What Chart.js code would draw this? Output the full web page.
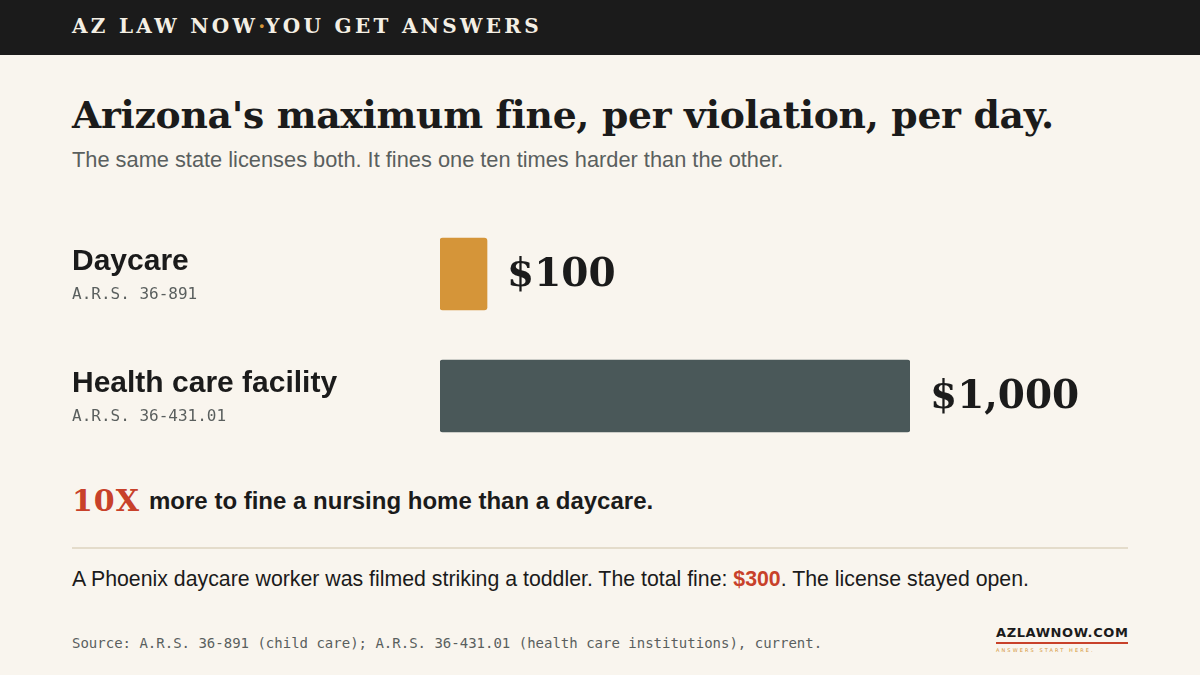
<!DOCTYPE html>
<html>
<head>
<meta charset="utf-8">
<script src="https://cdn.jsdelivr.net/npm/chart.js@4.4.0/dist/chart.umd.min.js"></script>
<style>
  html, body { margin: 0; padding: 0; }
  body { width: 1200px; height: 675px; background: #f9f5ee; position: relative; overflow: hidden; font-family: "Liberation Sans", Arial, sans-serif; color: #1b1b1b; }
  .top { position: absolute; left: 0; top: 0; width: 1200px; height: 55px; background: #1b1b1b; }
  .top span { position: absolute; left: 72px; top: 14px; font: bold 20px "DejaVu Serif", serif; letter-spacing: 3.3px; color: #f4efe4; }
  .top i { color: #d59539; font-style: normal; letter-spacing: 0; }
  h1 { position: absolute; left: 72px; top: 93px; margin: 0; font: bold 37.7px "DejaVu Serif", serif; letter-spacing: -0.3px; color: #1b1b1b; white-space: nowrap; }
  .sub { position: absolute; left: 72px; top: 147px; font-size: 21.8px; color: #5a5f5e; white-space: nowrap; }
  #wrap { position: absolute; left: 60px; top: 213px; width: 1080px; height: 244px; }
  .ratio { position: absolute; left: 72px; top: 483px; white-space: nowrap; }
  .ratio b.big { font: bold 30px "DejaVu Serif", serif; color: #c8412a; letter-spacing: 1px; }
  .ratio span { font-weight: bold; font-size: 24px; margin-left: 9px; vertical-align: 2px; }
  .rule { position: absolute; left: 72px; top: 547px; width: 1056px; height: 2px; background: #e4dccb; }
  .story { position: absolute; left: 72px; top: 567px; font-size: 21.3px; white-space: nowrap; }
  .story b { color: #c8412a; }
  .src { position: absolute; left: 72px; top: 635px; font: 14px "DejaVu Sans Mono", monospace; color: #5a5f5e; white-space: nowrap; }
  .logo { position: absolute; left: 996px; top: 625px; width: 132px; }
  .logo .name { font: bold 13px "DejaVu Sans", sans-serif; letter-spacing: 0.6px; color: #1b1b1b; border-bottom: 2px solid #c8412a; padding-bottom: 2px; white-space: nowrap; }
  .logo .tag { font: 5px "DejaVu Sans", sans-serif; letter-spacing: 2.1px; color: #d59539; margin-top: 3px; white-space: nowrap; }
</style>
</head>
<body>
<div class="top"><span>AZ LAW NOW<i>·</i>YOU GET ANSWERS</span></div>
<h1>Arizona's maximum fine, per violation, per day.</h1>
<div class="sub">The same state licenses both. It fines one ten times harder than the other.</div>
<div id="wrap"><canvas id="chart"></canvas></div>
<div class="ratio"><b class="big">10X</b><span>more to fine a nursing home than a daycare.</span></div>
<div class="rule"></div>
<div class="story">A Phoenix daycare worker was filmed striking a toddler. The total fine: <b>$300</b>. The license stayed open.</div>
<div class="src">Source: A.R.S. 36-891 (child care); A.R.S. 36-431.01 (health care institutions), current.</div>
<div class="logo"><div class="name">AZLAWNOW.COM</div><div class="tag">ANSWERS START HERE.</div></div>

<script>
// data
const categories = ["Daycare", "Health care facility"];
const statutes = ["A.R.S. 36-891", "A.R.S. 36-431.01"];
const fines = [100, 1000];
const fineLabels = ["$100", "$1,000"];
const barColors = ["#d59539", "#4a5859"];

// labels on the left + value after each bar
const sideLabels = {
  id: "sideLabels",
  afterDatasetsDraw(chart) {
    const ctx = chart.ctx;
    const meta = chart.getDatasetMeta(0);
    ctx.save();
    meta.data.forEach((bar, i) => {
      const y = bar.y;
      ctx.textAlign = "left";
      ctx.textBaseline = "middle";
      ctx.fillStyle = "#1b1b1b";
      ctx.font = "bold 30px 'Liberation Sans', Arial, sans-serif";
      ctx.fillText(categories[i], 12, y - 12);
      ctx.fillStyle = "#5a5f5e";
      ctx.font = "16px 'DejaVu Sans Mono', monospace";
      ctx.fillText(statutes[i], 12, y + 21);

      ctx.fillStyle = "#1b1b1b";
      ctx.font = "bold 39px 'DejaVu Serif', serif";
      ctx.fillText(fineLabels[i], bar.x + 20, y + 2);
    });
    ctx.restore();
  }
};

new Chart(document.getElementById("chart"), {
  type: "bar",
  data: {
    labels: categories,
    datasets: [{
      data: fines,
      backgroundColor: barColors,
      borderRadius: 3,
      borderSkipped: false,
      barThickness: 72
    }]
  },
  options: {
    indexAxis: "y",
    responsive: true,
    maintainAspectRatio: false,
    animation: false,
    layout: { padding: { left: 380, right: 230, top: 0, bottom: 0 } },
    plugins: { legend: { display: false }, tooltip: { enabled: false } },
    scales: {
      x: { display: false, min: 0, max: 1000 },
      y: { display: false }
    }
  },
  plugins: [sideLabels]
});
</script>
</body>
</html>
